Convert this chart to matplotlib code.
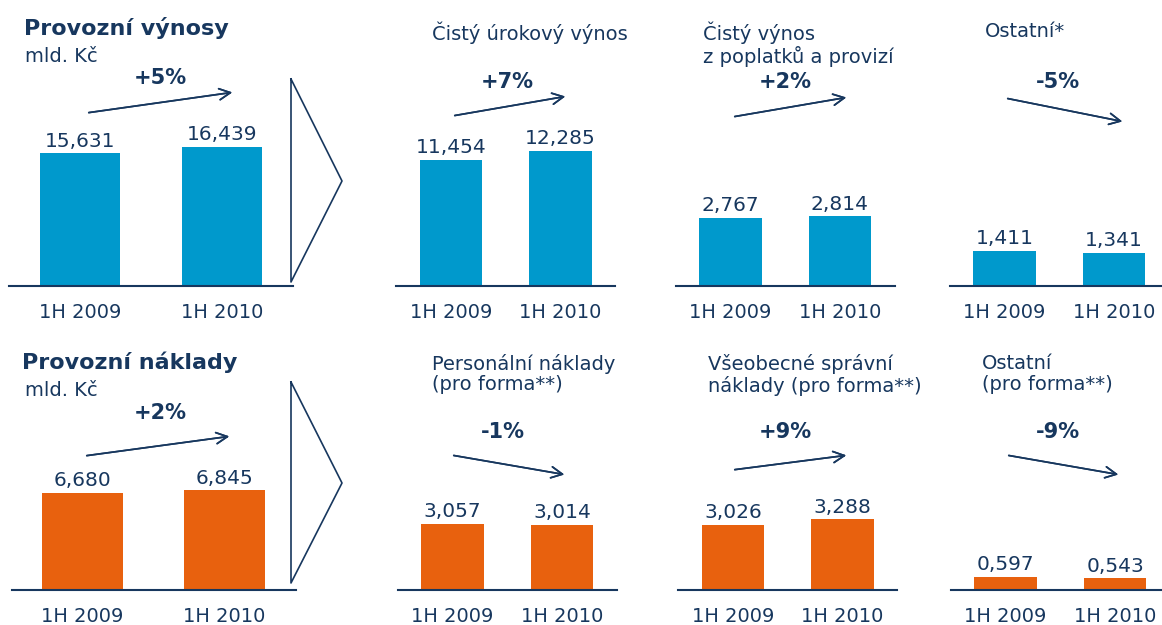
import matplotlib.pyplot as plt

W, H = 1162, 625
BLUE = "#0099CC"
ORANGE = "#E8610E"
NAVY = "#17375E"

periods = ["1H 2009", "1H 2010"]

# mld. Kč
vynosy_celkem = [15.631, 16.439]
urokovy_vynos = [11.454, 12.285]
poplatky_vynos = [2.767, 2.814]
ostatni_vynos = [1.411, 1.341]

naklady_celkem = [6.680, 6.845]
personalni = [3.057, 3.014]
spravni = [3.026, 3.288]
ostatni_naklady = [0.597, 0.543]

zmeny_vynosy = ["+5%", "+7%", "+2%", "-5%"]
zmeny_naklady = ["+2%", "-1%", "+9%", "-9%"]

nazvy_vynosy = ["", "Čistý úrokový výnos", "Čistý výnos\nz poplatků a provizí", "Ostatní*"]
nazvy_naklady = ["", "Personální náklady\n(pro forma**)",
                 "Všeobecné správní\nnáklady (pro forma**)", "Ostatní\n(pro forma**)"]


def fx(x):
    return x / W


def fy(y):
    return 1 - y / H


fig = plt.figure(figsize=(W / 100, H / 100), dpi=100)


def panel(values, color, c0, spacing, base_y, px_per_unit):
    ax_h = 150
    ax = fig.add_axes([fx(c0 - 0.5 * spacing), fy(base_y), fx(2 * spacing), ax_h / H])
    bars = ax.bar([0, 1], values, width=0.57, color=color)
    ax.set_xlim(-0.5, 1.5)
    ax.set_ylim(0, ax_h / px_per_unit)
    ax.bar_label(bars, labels=[f"{v:.3f}".replace(".", ",") for v in values],
                 padding=2, fontsize=14.5, color=NAVY)
    ax.set_xticks([0, 1], periods, fontsize=14, color=NAVY)
    ax.tick_params(axis="x", length=0, pad=12)
    ax.set_yticks([])
    for s in ["top", "left", "right"]:
        ax.spines[s].set_visible(False)
    ax.spines["bottom"].set_color(NAVY)
    ax.spines["bottom"].set_linewidth(1.5)
    ax.patch.set_alpha(0)
    return ax


def arrow(x0, y0, x1, y1):
    fig.add_artist(plt.annotate("", xy=(fx(x1), fy(y1)), xytext=(fx(x0), fy(y0)),
                                xycoords="figure fraction",
                                arrowprops=dict(arrowstyle="->", color=NAVY, lw=1.2,
                                                mutation_scale=20)))


def chevron(top, bottom, tip_y):
    fig.add_artist(plt.Line2D([fx(291), fx(291), fx(342), fx(291)],
                              [fy(top), fy(bottom), fy(tip_y), fy(top)],
                              color=NAVY, lw=1.2))


# horni rada - vynosy
panel(vynosy_celkem, BLUE, 80, 142, 286, 1000 * 0.00848)
panel(urokovy_vynos, BLUE, 451, 109.5, 286, 1000 * 0.0110)
panel(poplatky_vynos, BLUE, 730.5, 109.5, 286, 1000 * 0.0247)
panel(ostatni_vynos, BLUE, 1004.5, 109.5, 286, 1000 * 0.0247)

# dolni rada - naklady
panel(naklady_celkem, ORANGE, 82.5, 142, 590, 1000 * 0.01455)
panel(personalni, ORANGE, 452.5, 109.5, 590, 1000 * 0.0215)
panel(spravni, ORANGE, 733, 109.5, 590, 1000 * 0.0215)
panel(ostatni_naklady, ORANGE, 1005.5, 109.5, 590, 1000 * 0.0215)

chevron(79, 282, 181)
chevron(382, 583, 483)

fig.text(fx(24), fy(28), "Provozní výnosy", fontsize=16, fontweight="bold",
         color=NAVY, va="center")
fig.text(fx(25), fy(56), "mld. Kč", fontsize=14, color=NAVY, va="center")
fig.text(fx(22), fy(362), "Provozní náklady", fontsize=16, fontweight="bold",
         color=NAVY, va="center")
fig.text(fx(25), fy(390), "mld. Kč", fontsize=14, color=NAVY, va="center")

title_x = [0, 432, 703, 985]
for i in range(1, 4):
    fig.text(fx(title_x[i]), fy(22), nazvy_vynosy[i], fontsize=14,
             color=NAVY, va="top", linespacing=1.1)
title_x2 = [0, 432, 708, 982]
for i in range(1, 4):
    fig.text(fx(title_x2[i]), fy(354), nazvy_naklady[i], fontsize=14,
             color=NAVY, va="top", linespacing=1.1)

pct_top = [(160, 78), (507, 82), (785, 82), (1058, 82)]
for (x, y), t in zip(pct_top, zmeny_vynosy):
    fig.text(fx(x), fy(y), t, fontsize=15, fontweight="bold", color=NAVY,
             ha="center", va="center")
pct_bot = [(160, 413), (503, 432), (785, 432), (1058, 432)]
for (x, y), t in zip(pct_bot, zmeny_naklady):
    fig.text(fx(x), fy(y), t, fontsize=15, fontweight="bold", color=NAVY,
             ha="center", va="center")

arrow(86, 113, 235, 92)
arrow(452, 116, 568, 96)
arrow(732, 117, 849, 97)
arrow(1005, 98, 1125, 122)
arrow(84, 456, 232, 436)
arrow(451, 455, 567, 475)
arrow(732, 470, 849, 455)
arrow(1006, 455, 1121, 475)

fig.savefig("out.png", dpi=100)
